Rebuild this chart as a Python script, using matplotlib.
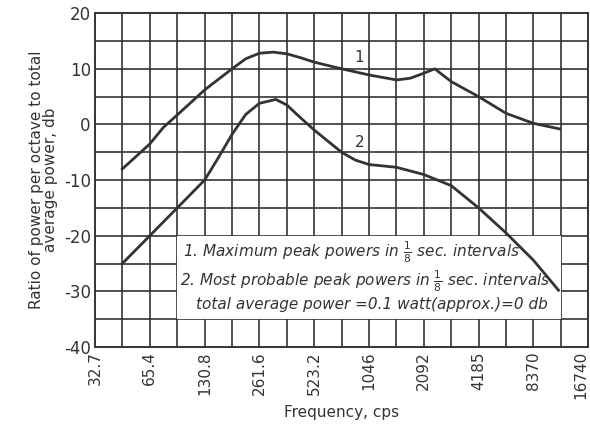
import numpy as np
import matplotlib
matplotlib.use('Agg')
import matplotlib.pyplot as plt

# octave tick labels along the frequency axis
tick_freqs = [32.7, 65.4, 130.8, 261.6, 523.2, 1046, 2092, 4185, 8370, 16740]
tick_labels = ['32.7', '65.4', '130.8', '261.6', '523.2', '1046', '2092', '4185', '8370', '16740']

# curve 1: maximum peak powers
freq1 = [46.2, 65.4, 77.8, 92.5, 130.8, 185, 220, 261.6, 311, 370, 440, 523.2,
         740, 1046, 1480, 1760, 2092, 2403, 2960, 4185, 5920, 8370, 11650]
db1 = [-8, -3.5, -0.5, 1.7, 6.2, 10, 11.8, 12.8, 13, 12.7, 12, 11.2,
       10, 8.9, 8.0, 8.3, 9.2, 10, 7.7, 5, 2, 0.2, -0.8]

# curve 2: most probable peak powers
freq2 = [46.2, 65.4, 92.5, 130.8, 155.5, 185, 220, 261.6, 322, 370, 440, 523.2,
         622, 740, 880, 1046, 1480, 2092, 2960, 4185, 5920, 8370, 11500]
db2 = [-25, -20, -15, -10, -6, -1.8, 1.8, 3.8, 4.5, 3.5, 1.2, -1,
       -3, -5, -6.4, -7.2, -7.7, -9, -11, -15, -19.5, -24.4, -29.8]

ink = '#333333'
fig = plt.figure(figsize=(5.9, 4.25), dpi=100)
ax = fig.add_axes([0.161, 0.1835, 0.836, 0.7855])
ax.set_xscale('log', base=2)
f0 = 32.7
fmax = f0 * 2 ** 9
ax.set_xlim(f0, fmax)
ax.set_ylim(-40, 20)

# grid every half octave and every 5 db
for k in range(1, 18):
    ax.axvline(f0 * 2 ** (k / 2), color=ink, lw=1.2, zorder=1)
for v in range(-35, 20, 5):
    ax.axhline(v, color=ink, lw=1.2, zorder=1)
for s in ax.spines.values():
    s.set_color(ink)
    s.set_linewidth(1.4)

# white note box over the grid
box_x0 = f0 * 2 ** 1.5
box_x1 = f0 * 2 ** 8.5
ax.fill_between([box_x0, box_x1], -35, -20, color='white', zorder=2, lw=0)

ax.plot(freq1, db1, color=ink, lw=2, zorder=3)
ax.plot(freq2, db2, color=ink, lw=2, zorder=3)
ax.text(870, 11.2, '1', fontsize=11, color=ink, zorder=4)
ax.text(870, -4, '2', fontsize=11, color=ink, zorder=4)

note = dict(fontsize=11, style='italic', color=ink, zorder=4, va='center')
ax.text(99, -22.9, r'1. Maximum peak powers in $\frac{1}{8}$ sec. intervals', **note)
ax.text(95.7, -28.2, r'2. Most probable peak powers in $\frac{1}{8}$ sec. intervals', **note)
ax.text(118, -32.4, 'total average power =0.1 watt(approx.)=0 db', **note)

ax.set_xticks(tick_freqs)
ax.set_xticklabels(tick_labels, rotation=90, fontsize=11, color=ink)
ax.get_xticklabels()[-1].set_horizontalalignment('right')
ax.xaxis.set_minor_locator(matplotlib.ticker.NullLocator())
ax.set_yticks(range(-40, 21, 10))
ax.set_yticklabels([str(v) for v in range(-40, 21, 10)], fontsize=12, color=ink)
ax.tick_params(length=0, pad=3)

ax.set_xlabel('Frequency, cps', fontsize=11, color=ink, labelpad=4)
ax.set_ylabel('Ratio of power per octave to total\naverage power, db', fontsize=11,
              color=ink, labelpad=4, linespacing=0.95)

fig.savefig('out.png', dpi=100)
